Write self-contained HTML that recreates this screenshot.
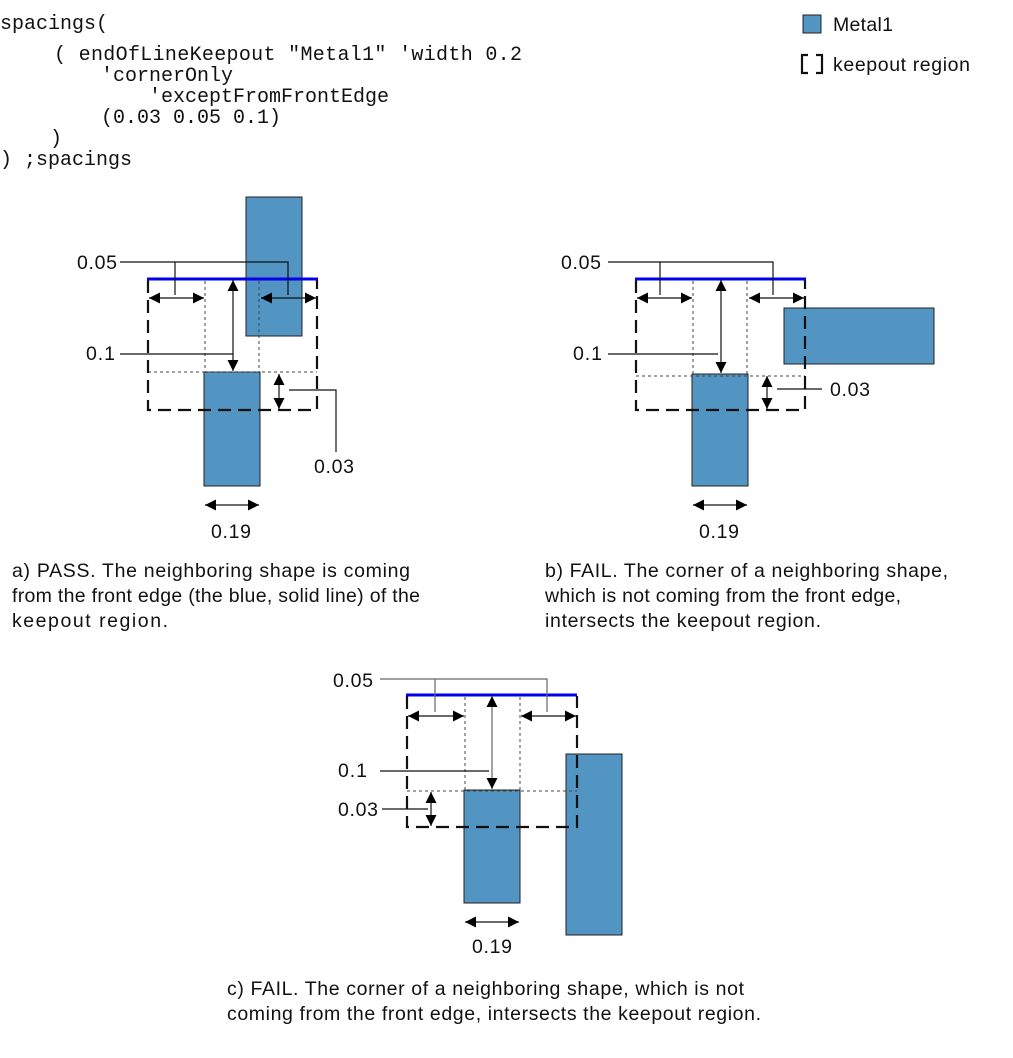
<!DOCTYPE html>
<html><head><meta charset="utf-8"><style>
html,body{margin:0;padding:0;background:#fff;}
svg{display:block}
.m{font-family:"Liberation Mono",monospace;font-size:20px;fill:#111}
.s{font-family:"Liberation Sans",sans-serif;font-size:19.5px;fill:#111}
.l{stroke:#111;stroke-width:1.2;fill:none}
.g{stroke:#666;stroke-width:1.2;fill:none}
.d{stroke:#111;stroke-width:2.2;fill:none;stroke-dasharray:13,7}
.dt{stroke:#444;stroke-width:1;fill:none;stroke-dasharray:3,3}
.r{fill:#5294c2;stroke:#222;stroke-width:1}
.b{stroke:#0000ee;stroke-width:3}
</style></head><body>
<svg width="1013" height="1058" viewBox="0 0 1013 1058" xmlns="http://www.w3.org/2000/svg">
<defs>
<marker id="a" viewBox="0 0 10 10" refX="10" refY="5" markerWidth="11" markerHeight="11" markerUnits="userSpaceOnUse" orient="auto-start-reverse"><path d="M0,0L10,5L0,10z" fill="#000"/></marker>
</defs>
<text class="m" x="0" y="29" textLength="108">spacings(</text>
<text class="m" x="54" y="60" xml:space="preserve" textLength="468">( endOfLineKeepout "Metal1" 'width 0.2</text>
<text class="m" x="101" y="81" textLength="132">'cornerOnly</text>
<text class="m" x="149" y="102" textLength="240">'exceptFromFrontEdge</text>
<text class="m" x="101" y="123" textLength="180">(0.03 0.05 0.1)</text>
<text class="m" x="50" y="144">)</text>
<text class="m" x="0" y="165" xml:space="preserve" textLength="132">) ;spacings</text>

<rect class="r" x="803" y="15" width="18" height="18"/>
<text class="s" x="833" y="31" textLength="60">Metal1</text>
<path d="M808,55H802V73H808M816,55H822V73H816" stroke="#111" stroke-width="2.2" fill="none"/>
<text class="s" x="833" y="71" textLength="137">keepout region</text>

<!-- a -->
<rect class="r" x="246" y="197" width="56" height="139"/>
<rect class="r" x="204" y="372" width="56" height="114"/>
<line class="dt" x1="205" y1="281" x2="205" y2="372"/>
<line class="dt" x1="259" y1="281" x2="259" y2="372"/>
<line class="dt" x1="148" y1="372" x2="317" y2="372"/>
<path class="d" d="M148,280V410H317V280"/>
<line class="b" x1="147" y1="279" x2="318" y2="279"/>
<path class="l" d="M120,262H288V295M175,262V295"/>
<line class="l" x1="149" y1="298" x2="204" y2="298" marker-start="url(#a)" marker-end="url(#a)"/>
<line class="l" x1="261" y1="298" x2="316" y2="298" marker-start="url(#a)" marker-end="url(#a)"/>
<line class="l" x1="233" y1="280" x2="233" y2="371" marker-start="url(#a)" marker-end="url(#a)"/>
<path class="l" d="M120,354H233"/>
<line class="l" x1="279" y1="374" x2="279" y2="409" marker-start="url(#a)" marker-end="url(#a)"/>
<path class="l" d="M289,390H336V452"/>
<line class="l" x1="205" y1="505" x2="259" y2="505" marker-start="url(#a)" marker-end="url(#a)"/>
<text class="s" x="77" y="269" textLength="40">0.05</text>
<text class="s" x="86" y="360" textLength="29">0.1</text>
<text class="s" x="314" y="473" textLength="40">0.03</text>
<text class="s" x="211" y="538" textLength="40">0.19</text>
<text class="s" x="12" y="577" textLength="398">a) PASS. The neighboring shape is coming</text>
<text class="s" x="12" y="602" textLength="408">from the front edge (the blue, solid line) of the</text>
<text class="s" x="12" y="627" textLength="156">keepout region.</text>

<!-- b -->
<rect class="r" x="784" y="308" width="150" height="56"/>
<rect class="r" x="692" y="374" width="56" height="112"/>
<line class="dt" x1="693" y1="281" x2="693" y2="374"/>
<line class="dt" x1="747" y1="281" x2="747" y2="374"/>
<line class="dt" x1="636" y1="376" x2="805" y2="376"/>
<path class="d" d="M636,280V410H805V280"/>
<line class="b" x1="635" y1="279" x2="806" y2="279"/>
<path class="l" d="M608,262H773V295M660,262V295"/>
<line class="l" x1="637" y1="298" x2="692" y2="298" marker-start="url(#a)" marker-end="url(#a)"/>
<line class="l" x1="749" y1="298" x2="804" y2="298" marker-start="url(#a)" marker-end="url(#a)"/>
<line class="l" x1="721" y1="280" x2="721" y2="373" marker-start="url(#a)" marker-end="url(#a)"/>
<path class="l" d="M608,354H718"/>
<line class="l" x1="767" y1="376" x2="767" y2="409" marker-start="url(#a)" marker-end="url(#a)"/>
<path class="l" d="M777,389H822"/>
<line class="l" x1="693" y1="505" x2="747" y2="505" marker-start="url(#a)" marker-end="url(#a)"/>
<text class="s" x="561" y="269" textLength="40">0.05</text>
<text class="s" x="573" y="360" textLength="29">0.1</text>
<text class="s" x="830" y="396" textLength="40">0.03</text>
<text class="s" x="699" y="538" textLength="40">0.19</text>
<text class="s" x="545" y="577" textLength="403">b) FAIL. The corner of a neighboring shape,</text>
<text class="s" x="545" y="602" textLength="356">which is not coming from the front edge,</text>
<text class="s" x="545" y="627" textLength="276">intersects the keepout region.</text>

<!-- c -->
<rect class="r" x="566" y="754" width="56" height="181"/>
<rect class="r" x="464" y="790" width="56" height="113"/>
<line class="dt" x1="465" y1="697" x2="465" y2="790"/>
<line class="dt" x1="520" y1="697" x2="520" y2="790"/>
<line class="dt" x1="407" y1="791" x2="577" y2="791"/>
<path class="d" d="M407,696V827H577V696"/>
<line class="b" x1="406" y1="695" x2="577" y2="695"/>
<path class="g" d="M380,679H547V712M435,679V712"/>
<line class="l" x1="408" y1="716" x2="464" y2="716" marker-start="url(#a)" marker-end="url(#a)"/>
<line class="l" x1="521" y1="716" x2="576" y2="716" marker-start="url(#a)" marker-end="url(#a)"/>
<line class="g" x1="492" y1="696" x2="492" y2="789" marker-start="url(#a)" marker-end="url(#a)"/>
<path class="l" d="M380,771H489"/>
<line class="l" x1="431" y1="792" x2="431" y2="826" marker-start="url(#a)" marker-end="url(#a)"/>
<path class="l" d="M382,809H428"/>
<line class="l" x1="465" y1="922" x2="519" y2="922" marker-start="url(#a)" marker-end="url(#a)"/>
<text class="s" x="333" y="687" textLength="40">0.05</text>
<text class="s" x="338" y="777" textLength="29">0.1</text>
<text class="s" x="338" y="816" textLength="40">0.03</text>
<text class="s" x="472" y="953" textLength="40">0.19</text>
<text class="s" x="227" y="995" textLength="517">c) FAIL. The corner of a neighboring shape, which is not</text>
<text class="s" x="227" y="1020" textLength="534">coming from the front edge, intersects the keepout region.</text>
</svg>
</body></html>
